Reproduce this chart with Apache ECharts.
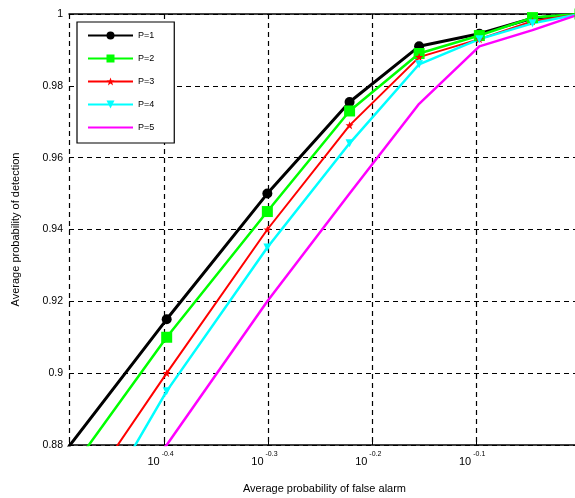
<!DOCTYPE html>
<html>
<head>
<meta charset="utf-8">
<script src="https://cdn.jsdelivr.net/npm/echarts@6/dist/echarts.min.js"></script>
<style>
  html, body { margin: 0; padding: 0; background: #fff; }
  #chart { width: 575px; height: 498px; }
</style>
</head>
<body>
<div id="chart"></div>
<script>
// false alarm probabilities (x, drawn on a log10 scale)
const pf = [0.3, 0.4, 0.5, 0.6, 0.7, 0.8, 0.9, 1.0];

// detection probabilities per P
const pdP1 = [0.868, 0.915, 0.950, 0.9755, 0.991, 0.9945, 0.9988, 1];
const pdP2 = [0.860, 0.910, 0.945, 0.973, 0.989, 0.994, 0.999, 1];
const pdP3 = [0.847, 0.900, 0.940, 0.969, 0.988, 0.993, 0.998, 1];
const pdP4 = [0.833, 0.895, 0.935, 0.964, 0.986, 0.993, 0.9974, 1];
const pdP5 = [0.840, 0.880, 0.920, 0.950, 0.975, 0.991, 0.9955, 1];

const names = ["P=1", "P=2", "P=3", "P=4", "P=5"];
const yTicks = [0.88, 0.9, 0.92, 0.94, 0.96, 0.98, 1];

const font = "Liberation Sans, Arial, sans-serif";

const toPoints = (pd) => pf.map((v, i) => [Math.log10(v), pd[i]]);

const mkSeries = (name, pd, color, width, symbol, size, rotate) => ({
  name: name,
  type: "line",
  data: toPoints(pd),
  color: color,
  symbol: symbol,
  symbolSize: size,
  symbolRotate: rotate || 0,
  showSymbol: symbol !== "none",
  lineStyle: { width: width, color: color },
  itemStyle: { color: color },
  clip: true,
  animation: false,
});

const star = "path://M0,-10 L2.5,-3 L9.5,-3 L4,1.5 L6,9 L0,4.5 L-6,9 L-4,1.5 L-9.5,-3 L-2.5,-3 Z";

const chart = echarts.init(document.getElementById("chart"));
chart.setOption({
  animation: false,
  grid: {
    left: 69,
    top: 14,
    width: 511,
    height: 431,
    outerBoundsMode: "none",
    containLabel: false,
  },
  legend: {
    orient: "vertical",
    left: 77,
    top: 22,
    padding: [9, 20, 11, 10],
    itemWidth: 45,
    itemHeight: 10,
    itemGap: 14,
    backgroundColor: "#fff",
    borderColor: "#000",
    borderWidth: 1.2,
    textStyle: { fontFamily: font, fontSize: 9, color: "#000" },
    data: [names[0], names[1], names[2], names[3], { name: names[4], itemStyle: { opacity: 0 } }],
  },
  xAxis: [
    {
      type: "value",
      min: -0.492,
      max: 0,
      minInterval: 0.1,
      maxInterval: 0.1,
      name: "Average probability of false alarm",
      nameLocation: "middle",
      nameGap: 38,
      nameTextStyle: { fontFamily: font, fontSize: 11, color: "#000" },
      axisLine: { lineStyle: { color: "#000", width: 1.5 } },
      axisTick: { inside: true, length: 5, lineStyle: { color: "#000" } },
      splitLine: {
        show: true,
        lineStyle: { color: "#000", type: [5, 4], width: 1.2 },
      },
      axisLabel: {
        margin: 6,
        formatter: (v) => {
          const r = Math.round(v * 10) / 10;
          if (Math.abs(r - v) > 1e-6 || r === 0) return "";
          return "{b|10}{s|" + r.toFixed(1) + "}";
        },
        rich: {
          b: { fontFamily: font, fontSize: 11, color: "#000", lineHeight: 12, padding: [10, 0, 0, 0] },
          s: { fontFamily: font, fontSize: 7, color: "#000", verticalAlign: "top", padding: [0, 8, 0, 2] },
        },
      },
    },
    {
      type: "value",
      position: "top",
      min: -0.492,
      max: 0,
      minInterval: 0.1,
      maxInterval: 0.1,
      axisLine: { show: true, lineStyle: { color: "#000", width: 1.5 } },
      axisTick: { show: true, inside: true, length: 5, lineStyle: { color: "#000" } },
      axisLabel: { show: false },
      splitLine: { show: false },
    },
  ],
  yAxis: {
    type: "value",
    min: yTicks[0],
    max: yTicks[yTicks.length - 1],
    interval: 0.02,
    name: "Average probability of detection",
    nameLocation: "middle",
    nameGap: 48,
    nameTextStyle: { fontFamily: font, fontSize: 11, color: "#000" },
    axisLine: { show: true, lineStyle: { color: "#000", width: 1.5 } },
    axisTick: { show: true, inside: true, length: 5, lineStyle: { color: "#000" } },
    splitLine: {
      show: true,
      lineStyle: { color: "#000", type: [5, 4], width: 1.2 },
    },
    axisLabel: {
      fontFamily: font,
      fontSize: 10.5,
      color: "#000",
      margin: 6,
      formatter: (v) => String(Math.round(v * 100) / 100),
    },
  },
  series: [
    mkSeries(names[0], pdP1, "#000000", 3, "circle", 10),
    mkSeries(names[1], pdP2, "#00ff00", 2.5, "rect", 11),
    mkSeries(names[2], pdP3, "#ff0000", 2, star, 8),
    mkSeries(names[3], pdP4, "#00ffff", 2.5, "triangle", 8, 180),
    mkSeries(names[4], pdP5, "#ff00ff", 2.5, "none", 0),
  ],
});
</script>
</body>
</html>
